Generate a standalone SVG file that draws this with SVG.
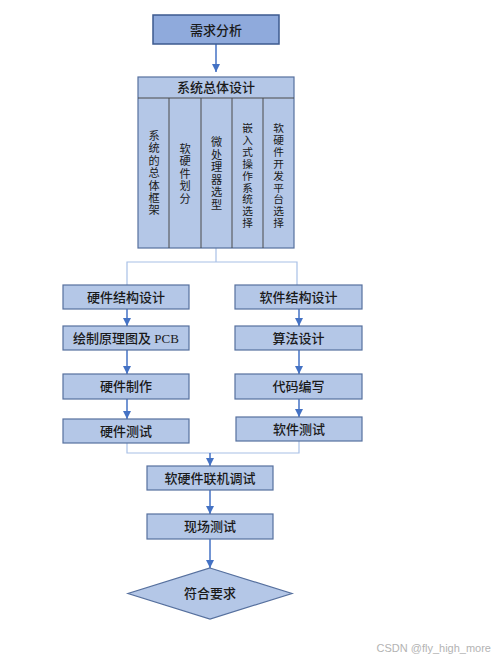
<svg xmlns="http://www.w3.org/2000/svg" width="500" height="657" viewBox="0 0 500 657">
<defs>
<marker id="ah" viewBox="0 0 10 10" refX="10" refY="5" markerWidth="8" markerHeight="8" markerUnits="userSpaceOnUse" orient="auto">
<path d="M0,0 L10,5 L0,10 z" fill="#4472c4"/>
</marker>
<style>
.box{fill:#b4c7e7;stroke:#56709e;stroke-width:1.2}
.dark{fill:#8faadc;stroke:#3d5a8f;stroke-width:1.5}
.t{font-family:"Liberation Serif","Noto Sans CJK SC",serif;font-size:13px;fill:#1a1a1a;text-anchor:middle;font-weight:500}
.v{font-family:"Liberation Serif","Noto Sans CJK SC",serif;font-size:11.2px;fill:#1a1a1a;text-anchor:middle}
.v9{font-size:10.7px}
.arrow{stroke:#4472c4;stroke-width:1.5;fill:none;marker-end:url(#ah)}
.thin{stroke:#a8c0e6;stroke-width:1.2;fill:none}
.div{stroke:#4a4a4a;stroke-width:1}
</style>
</defs>
<rect width="500" height="657" fill="#ffffff"/>
<g id="connectors">
<line class="arrow" x1="216" y1="44" x2="216" y2="72"/>
<polyline class="thin" points="216,248 216,262"/>
<polyline class="thin" points="127,285 127,262 297,262 297,285"/>
<line class="arrow" x1="127" y1="309" x2="127" y2="326"/>
<line class="arrow" x1="127" y1="350" x2="127" y2="374"/>
<line class="arrow" x1="127" y1="399" x2="127" y2="419"/>
<line class="arrow" x1="299" y1="309" x2="299" y2="326"/>
<line class="arrow" x1="299" y1="350" x2="299" y2="374"/>
<line class="arrow" x1="299" y1="399" x2="299" y2="417"/>
<polyline class="thin" points="127,443 127,453 299,453 299,441"/>
<line class="arrow" x1="210" y1="453" x2="210" y2="466"/>
<line class="arrow" x1="210" y1="490" x2="210" y2="514"/>
<line class="arrow" x1="210" y1="539" x2="210" y2="568"/>
</g>
<g id="n1"><rect class="dark" x="153" y="15" width="126" height="29"/><text class="t" x="216" y="34.5">需求分析</text></g>
<g id="n2">
<rect class="box" x="138" y="77" width="156" height="171" stroke="#555"/>
<line class="div" x1="138" y1="98" x2="294" y2="98"/>
<line class="div" x1="169" y1="98" x2="169" y2="248"/>
<line class="div" x1="201" y1="98" x2="201" y2="248"/>
<line class="div" x1="232" y1="98" x2="232" y2="248"/>
<line class="div" x1="263" y1="98" x2="263" y2="248"/>
<text class="t" x="216" y="92">系统总体设计</text>
<text class="v"><tspan x="154" y="140">系</tspan><tspan x="154" dy="12.4">统</tspan><tspan x="154" dy="12.4">的</tspan><tspan x="154" dy="12.4">总</tspan><tspan x="154" dy="12.4">体</tspan><tspan x="154" dy="12.4">框</tspan><tspan x="154" dy="12.4">架</tspan></text>
<text class="v"><tspan x="185" y="153">软</tspan><tspan x="185" dy="12.4">硬</tspan><tspan x="185" dy="12.4">件</tspan><tspan x="185" dy="12.4">划</tspan><tspan x="185" dy="12.4">分</tspan></text>
<text class="v"><tspan x="216.5" y="146">微</tspan><tspan x="216.5" dy="12.6">处</tspan><tspan x="216.5" dy="12.6">理</tspan><tspan x="216.5" dy="12.6">器</tspan><tspan x="216.5" dy="12.6">选</tspan><tspan x="216.5" dy="12.6">型</tspan></text>
<text class="v v9"><tspan x="247.5" y="132">嵌</tspan><tspan x="247.5" dy="11.9">入</tspan><tspan x="247.5" dy="11.9">式</tspan><tspan x="247.5" dy="11.9">操</tspan><tspan x="247.5" dy="11.9">作</tspan><tspan x="247.5" dy="11.9">系</tspan><tspan x="247.5" dy="11.9">统</tspan><tspan x="247.5" dy="11.9">选</tspan><tspan x="247.5" dy="11.9">择</tspan></text>
<text class="v v9"><tspan x="278.5" y="132">软</tspan><tspan x="278.5" dy="11.9">硬</tspan><tspan x="278.5" dy="11.9">件</tspan><tspan x="278.5" dy="11.9">开</tspan><tspan x="278.5" dy="11.9">发</tspan><tspan x="278.5" dy="11.9">平</tspan><tspan x="278.5" dy="11.9">台</tspan><tspan x="278.5" dy="11.9">选</tspan><tspan x="278.5" dy="11.9">择</tspan></text>
</g>
<g id="n3"><rect class="box" x="63" y="285" width="126" height="24"/><text class="t" x="126" y="302">硬件结构设计</text></g>
<g id="n4"><rect class="box" x="63" y="326" width="126" height="24"/><text class="t" x="126" y="343">绘制原理图及 PCB</text></g>
<g id="n5"><rect class="box" x="63" y="374" width="126" height="25"/><text class="t" x="126" y="391">硬件制作</text></g>
<g id="n6"><rect class="box" x="63" y="419" width="126" height="24"/><text class="t" x="126" y="436">硬件测试</text></g>
<g id="n7"><rect class="box" x="235" y="285" width="127" height="24"/><text class="t" x="298.5" y="302">软件结构设计</text></g>
<g id="n8"><rect class="box" x="235" y="326" width="127" height="24"/><text class="t" x="298.5" y="343">算法设计</text></g>
<g id="n9"><rect class="box" x="235" y="374" width="127" height="25"/><text class="t" x="298.5" y="391">代码编写</text></g>
<g id="n10"><rect class="box" x="236" y="417" width="126" height="24"/><text class="t" x="299" y="434">软件测试</text></g>
<g id="n11"><rect class="box" x="147" y="466" width="126" height="24"/><text class="t" x="210" y="483">软硬件联机调试</text></g>
<g id="n12"><rect class="box" x="147" y="514" width="126" height="25"/><text class="t" x="210" y="531">现场测试</text></g>
<g id="n13"><polygon class="box" points="210,568 292,593.5 210,619 128,593.5"/><text class="t" x="210" y="598">符合要求</text></g>
<text x="491" y="652" font-family="Liberation Sans, Arial, sans-serif" font-size="11" fill="#b3b3b3" text-anchor="end">CSDN @fly_high_more</text>
</svg>
